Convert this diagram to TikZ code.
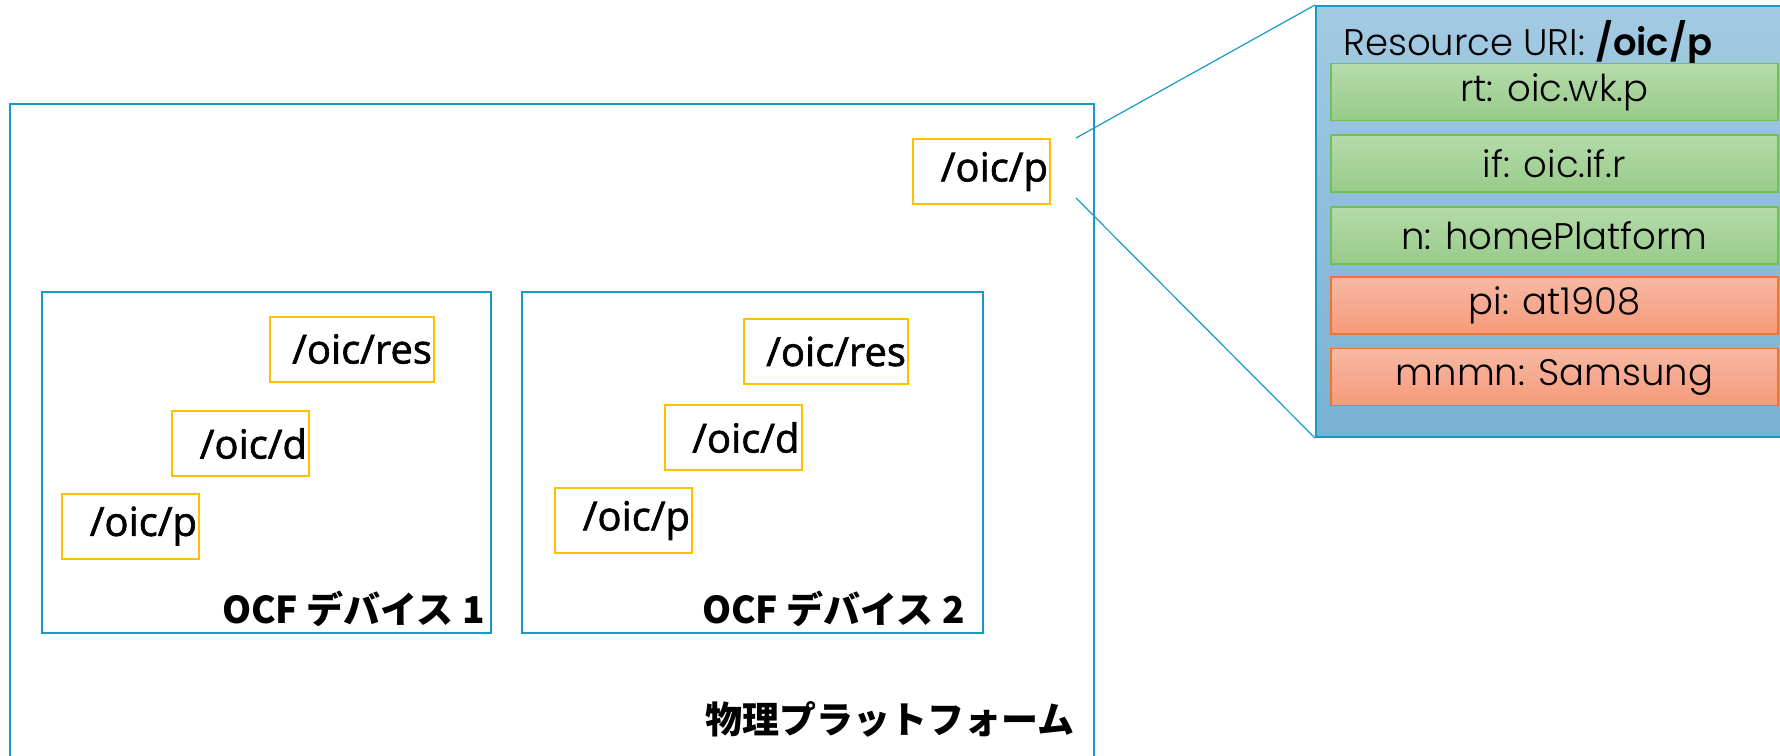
\documentclass[tikz,border=0pt]{standalone}
\usepackage{fontspec}
\setmainfont{Open Sans}
\newfontfamily\resf{Open Sans}[FakeBold=1.6]
\newfontfamily\jp{Noto Sans CJK JP}
\newfontfamily\geo{Poppins Light}[BoldFont={Poppins SemiBold}]
\usetikzlibrary{calc}
\definecolor{ocfblue}{HTML}{159BC4}
\definecolor{resyel}{HTML}{FFC000}
\definecolor{panTop}{HTML}{A3CAE2}
\definecolor{panBot}{HTML}{79B1D3}
\definecolor{grnTop}{HTML}{B5DBAA}
\definecolor{grnBot}{HTML}{98CB89}
\definecolor{grnLine}{HTML}{70BF5C}
\definecolor{orTop}{HTML}{F7B9A3}
\definecolor{orBot}{HTML}{F59A7B}
\definecolor{orLine}{HTML}{EE7430}
\begin{document}
\begin{tikzpicture}[x=0.5pt,y=-0.5pt,
  bluebox/.style={draw=ocfblue, line width=1.35pt, inner sep=0pt},
  res/.style={draw=resyel, line width=1pt, inner xsep=1pt, inner ysep=0pt,
    align=right, minimum height=32.5pt, text width=66.5pt,
    font=\resf\fontsize{20}{20}\selectfont},
  reswide/.style={res, text width=80pt},
  lbl/.style={anchor=base east, inner sep=0pt, font=\jp\bfseries\fontsize{18.5}{18.5}\selectfont},
  prop/.style={line width=0.75pt, minimum width=223.5pt, minimum height=28.5pt,
    inner sep=0pt, font=\geo\fontsize{18.5}{18.5}\selectfont},
  green/.style={prop, draw=grnLine, top color=grnTop, bottom color=grnBot},
  orange/.style={prop, draw=orLine, top color=orTop, bottom color=orBot},
  conn/.style={draw=ocfblue, line width=0.6pt}
]
\useasboundingbox (0,0) rectangle (1780,755);

% physical platform
\node[bluebox, minimum width=542pt, minimum height=338pt] (plat) at (552,442) {};
\node[lbl] (platl) at (1075,733) {物理プラットフォーム};
\node[res] (ptop) at (981.5,171.5) {/oic/p};

% devices
\node[bluebox, minimum width=224.5pt, minimum height=170.5pt] (dev1) at (266.5,462.5) {};
\node[bluebox, minimum width=230.5pt, minimum height=170.5pt] (dev2) at (752.5,462.5) {};
\node[lbl] (dev1l) at (485,623) {OCF デバイス 1};
\node[lbl] (dev2l) at (965,623) {OCF デバイス 2};

\node[reswide] (r1) at (352,349) {/oic/res};
\node[res] (d1) at (240.5,443.5) {/oic/d};
\node[res] (p1) at (130.5,526) {/oic/p};
\node[reswide] (r2) at (826,351.5) {/oic/res};
\node[res] (d2) at (733,437.5) {/oic/d};
\node[res] (p2) at (623.5,520.5) {/oic/p};

% detail panel
\node[draw=ocfblue, line width=1pt, top color=panTop, bottom color=panBot,
      minimum width=242pt, minimum height=215.5pt, inner sep=0pt] (panel) at (1558,221.5) {};
\node[anchor=base west, inner sep=0pt, font=\geo\fontsize{18.5}{18.5}\selectfont] (hdr) at (1343,55)
  {Resource URI: \textbf{/oic/p}};
\node[green] (rt) at (1554.5,92) {rt: oic.wk.p};
\node[green] (if) at (1554.5,163.5) {if: oic.if.r};
\node[green] (n) at (1554.5,235.5) {n: homePlatform};
\node[orange] (pi) at (1554.5,305.5) {pi: at1908};
\node[orange] (mn) at (1554.5,377) {mnmn: Samsung};

% connectors
\coordinate (c1) at ($(ptop.north east)+(25,0)$);
\coordinate (c2) at ($(ptop.south east)+(25,-7)$);
\draw[conn] (c1) -- (panel.north west);
\draw[conn] (c2) -- (panel.south west);
\end{tikzpicture}
\end{document}
